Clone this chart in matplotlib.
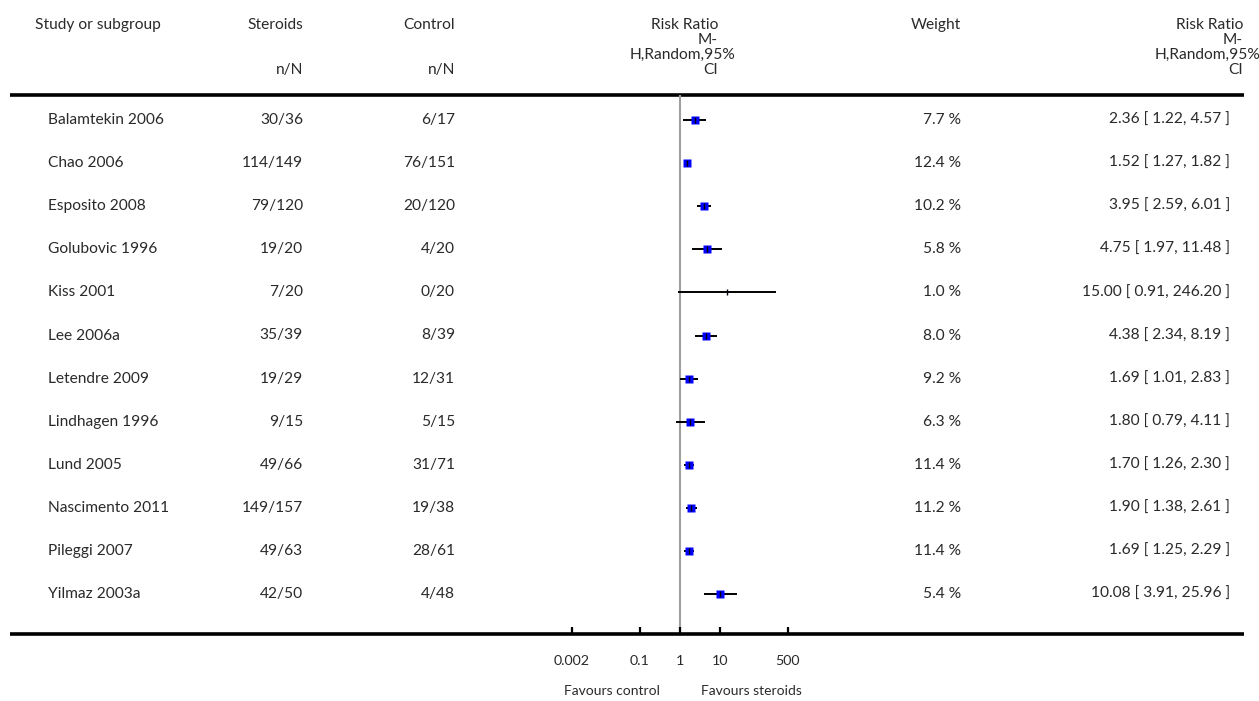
import numpy as np
import matplotlib
matplotlib.use("Agg")
import matplotlib.pyplot as plt

plt.rcParams['font.family'] = ['Lato', 'DejaVu Sans']
plt.rcParams['font.size'] = 11.2

studies = ["Balamtekin 2006", "Chao 2006", "Esposito 2008", "Golubovic 1996",
           "Kiss 2001", "Lee 2006a", "Letendre 2009", "Lindhagen 1996",
           "Lund 2005", "Nascimento 2011", "Pileggi 2007", "Yilmaz 2003a"]
ev_ster = [30, 114, 79, 19, 7, 35, 19, 9, 49, 149, 49, 42]
n_ster = [36, 149, 120, 20, 20, 39, 29, 15, 66, 157, 63, 50]
ev_ctrl = [6, 76, 20, 4, 0, 8, 12, 5, 31, 19, 28, 4]
n_ctrl = [17, 151, 120, 20, 20, 39, 31, 15, 71, 38, 61, 48]
weight = [7.7, 12.4, 10.2, 5.8, 1.0, 8.0, 9.2, 6.3, 11.4, 11.2, 11.4, 5.4]
rr = [2.36, 1.52, 3.95, 4.75, 15.00, 4.38, 1.69, 1.80, 1.70, 1.90, 1.69, 10.08]
lo = [1.22, 1.27, 2.59, 1.97, 0.91, 2.34, 1.01, 0.79, 1.26, 1.38, 1.25, 3.91]
hi = [4.57, 1.82, 6.01, 11.48, 246.20, 8.19, 2.83, 4.11, 2.30, 2.61, 2.29, 25.96]

xticks = [0.002, 0.1, 1, 10, 500]
xticklabels = ["0.002", "0.1", "1", "10", "500"]

W, H = 1259, 701
fig = plt.figure(figsize=(W / 100, H / 100), dpi=100)

# background axes in pixel units for the table text and rules
bg = fig.add_axes([0, 0, 1, 1])
bg.set_xlim(0, W)
bg.set_ylim(H, 0)
bg.axis('off')

tc = '#2a2a2a'
y_top, y_bot = 95, 634
row_y0, row_dy = 120, 43.1

# header
bg.text(35, 25, "Study or subgroup", ha='left', va='center', color=tc)
bg.text(303, 25, "Steroids", ha='right', va='center', color=tc)
bg.text(303, 70, "n/N", ha='right', va='center', color=tc)
bg.text(455, 25, "Control", ha='right', va='center', color=tc)
bg.text(455, 70, "n/N", ha='right', va='center', color=tc)
bg.text(961, 25, "Weight", ha='right', va='center', color=tc)
for off in (0, 525):
    bg.text(1210 - off, 25, "Risk Ratio", ha='center', va='center', color=tc)
    bg.text(1233 - off, 40, "M-", ha='center', va='center', color=tc)
    bg.text(1208 - off, 55, "H,Random,95%", ha='center', va='center', color=tc)
    bg.text(1236 - off, 70, "CI", ha='center', va='center', color=tc)

bg.plot([10, 1244], [y_top, y_top], color='black', lw=2.6, solid_capstyle='butt')
bg.plot([10, 1244], [y_bot, y_bot], color='black', lw=2.6, solid_capstyle='butt')

for i, name in enumerate(studies):
    y = row_y0 + i * row_dy
    bg.text(48, y, name, ha='left', va='center', color=tc)
    bg.text(303, y, f"{ev_ster[i]}/{n_ster[i]}", ha='right', va='center', color=tc)
    bg.text(455, y, f"{ev_ctrl[i]}/{n_ctrl[i]}", ha='right', va='center', color=tc)
    bg.text(961, y, f"{weight[i]:.1f} %", ha='right', va='center', color=tc)
    bg.text(1230, y, f"{rr[i]:.2f} [ {lo[i]:.2f}, {hi[i]:.2f} ]",
            ha='right', va='center', color=tc)

bg.text(612, 691, "Favours control", ha='center', va='center', color=tc, fontsize=10)
bg.text(751, 691, "Favours steroids", ha='center', va='center', color=tc, fontsize=10)

# forest axes: log scale, 1 at x=680px, 40px per decade
left_px, right_px = 560, 800
ax = fig.add_axes([left_px / W, (H - y_bot) / H, (right_px - left_px) / W, (y_bot - y_top) / H])
ax.set_facecolor('none')
ax.set_xscale('log')
ax.set_xlim(1e-3, 1e3)
n = len(studies)
ax.set_ylim(n - 1 + (y_bot - (row_y0 + (n - 1) * row_dy)) / row_dy, -(row_y0 - y_top) / row_dy)
for s in ax.spines.values():
    s.set_visible(False)

ax.axvline(1, color='#a0a0a0', lw=1.5, zorder=1)
ypos = np.arange(n)
ax.hlines(ypos, lo, hi, color='black', lw=1.4, zorder=2)
for i in range(n):
    ms = np.clip(weight[i] * 1.0, 0.8, 5.4)
    ax.plot(rr[i], ypos[i], marker='s', ms=ms, color='#0000ff', mec='none', zorder=3)
ax.plot(rr, ypos, marker='|', ms=4, mew=1, color='black', ls='none', zorder=4)

ax.set_xticks(xticks)
ax.set_xticklabels(xticklabels, fontsize=10.3, color=tc)
ax.minorticks_off()
ax.tick_params(axis='x', direction='in', length=5, width=1.6, pad=15)
ax.set_yticks([])

fig.savefig("out.png", dpi=100)
